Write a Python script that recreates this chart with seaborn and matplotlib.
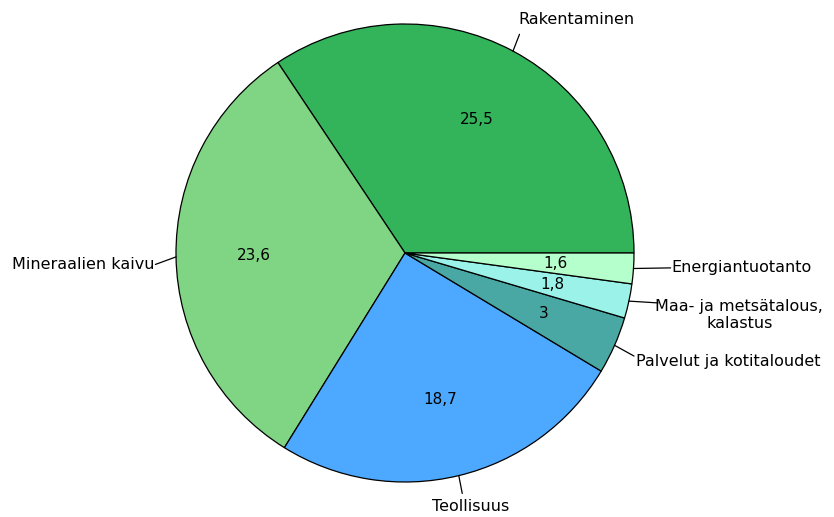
import numpy as np
import matplotlib.pyplot as plt
import seaborn as sns

# Data
labels = ["Rakentaminen", "Mineraalien kaivu", "Teollisuus",
          "Palvelut ja kotitaloudet", "Maa- ja metsätalous,\nkalastus",
          "Energiantuotanto"]
values = [25.5, 23.6, 18.7, 3, 1.8, 1.6]
value_text = ["25,5", "23,6", "18,7", "3", "1,8", "1,6"]
colors = ["#33b35a", "#80d584", "#4da9ff", "#49a8a4", "#9af2e8", "#b5ffcc"]

sns.set_style("white")
plt.rcParams['font.family'] = ['DejaVu Sans']

fig = plt.figure(figsize=(8.34, 5.17), dpi=100)
ax = fig.add_axes([0, 0, 1, 1])

wedges, _ = ax.pie(values, colors=colors, startangle=0, counterclock=True,
                   wedgeprops=dict(edgecolor="black", linewidth=0.9),
                   radius=1.0)

# value labels inside
for w, t in zip(wedges, value_text):
    ang = np.deg2rad((w.theta1 + w.theta2) / 2)
    ax.text(0.66 * np.cos(ang), 0.66 * np.sin(ang), t,
            ha="center", va="center", fontsize=11, color="black")

# outer labels with leader lines: (text x, text y, ha)
label_pos = [
    (0.495, 1.02, "left"),
    (-1.095, -0.05, "right"),
    (0.285, -1.105, "center"),
    (1.01, -0.475, "left"),
    (1.46, -0.27, "center"),
    (1.165, -0.065, "left"),
]
line_end = [
    (0.50, 0.955),
    (-1.09, -0.05),
    (0.25, -1.05),
    (1.00, -0.45),
    (1.105, -0.218),
    (1.16, -0.065),
]
for w, lab, (tx, ty, ha), (lx, ly) in zip(wedges, labels, label_pos, line_end):
    ang = np.deg2rad((w.theta1 + w.theta2) / 2)
    ex, ey = np.cos(ang), np.sin(ang)
    ax.plot([ex, lx], [ey, ly], color="black", linewidth=0.9)
    ax.text(tx, ty, lab, ha=ha, va="center", fontsize=11.5, color="black",
            multialignment="center")

ax.set_xlim(-405 / 229, (834 - 405) / 229)
ax.set_ylim(-(517 - 253) / 229, 253 / 229)
ax.set_aspect("equal")
ax.axis("off")

plt.savefig("out.png", dpi=100)
